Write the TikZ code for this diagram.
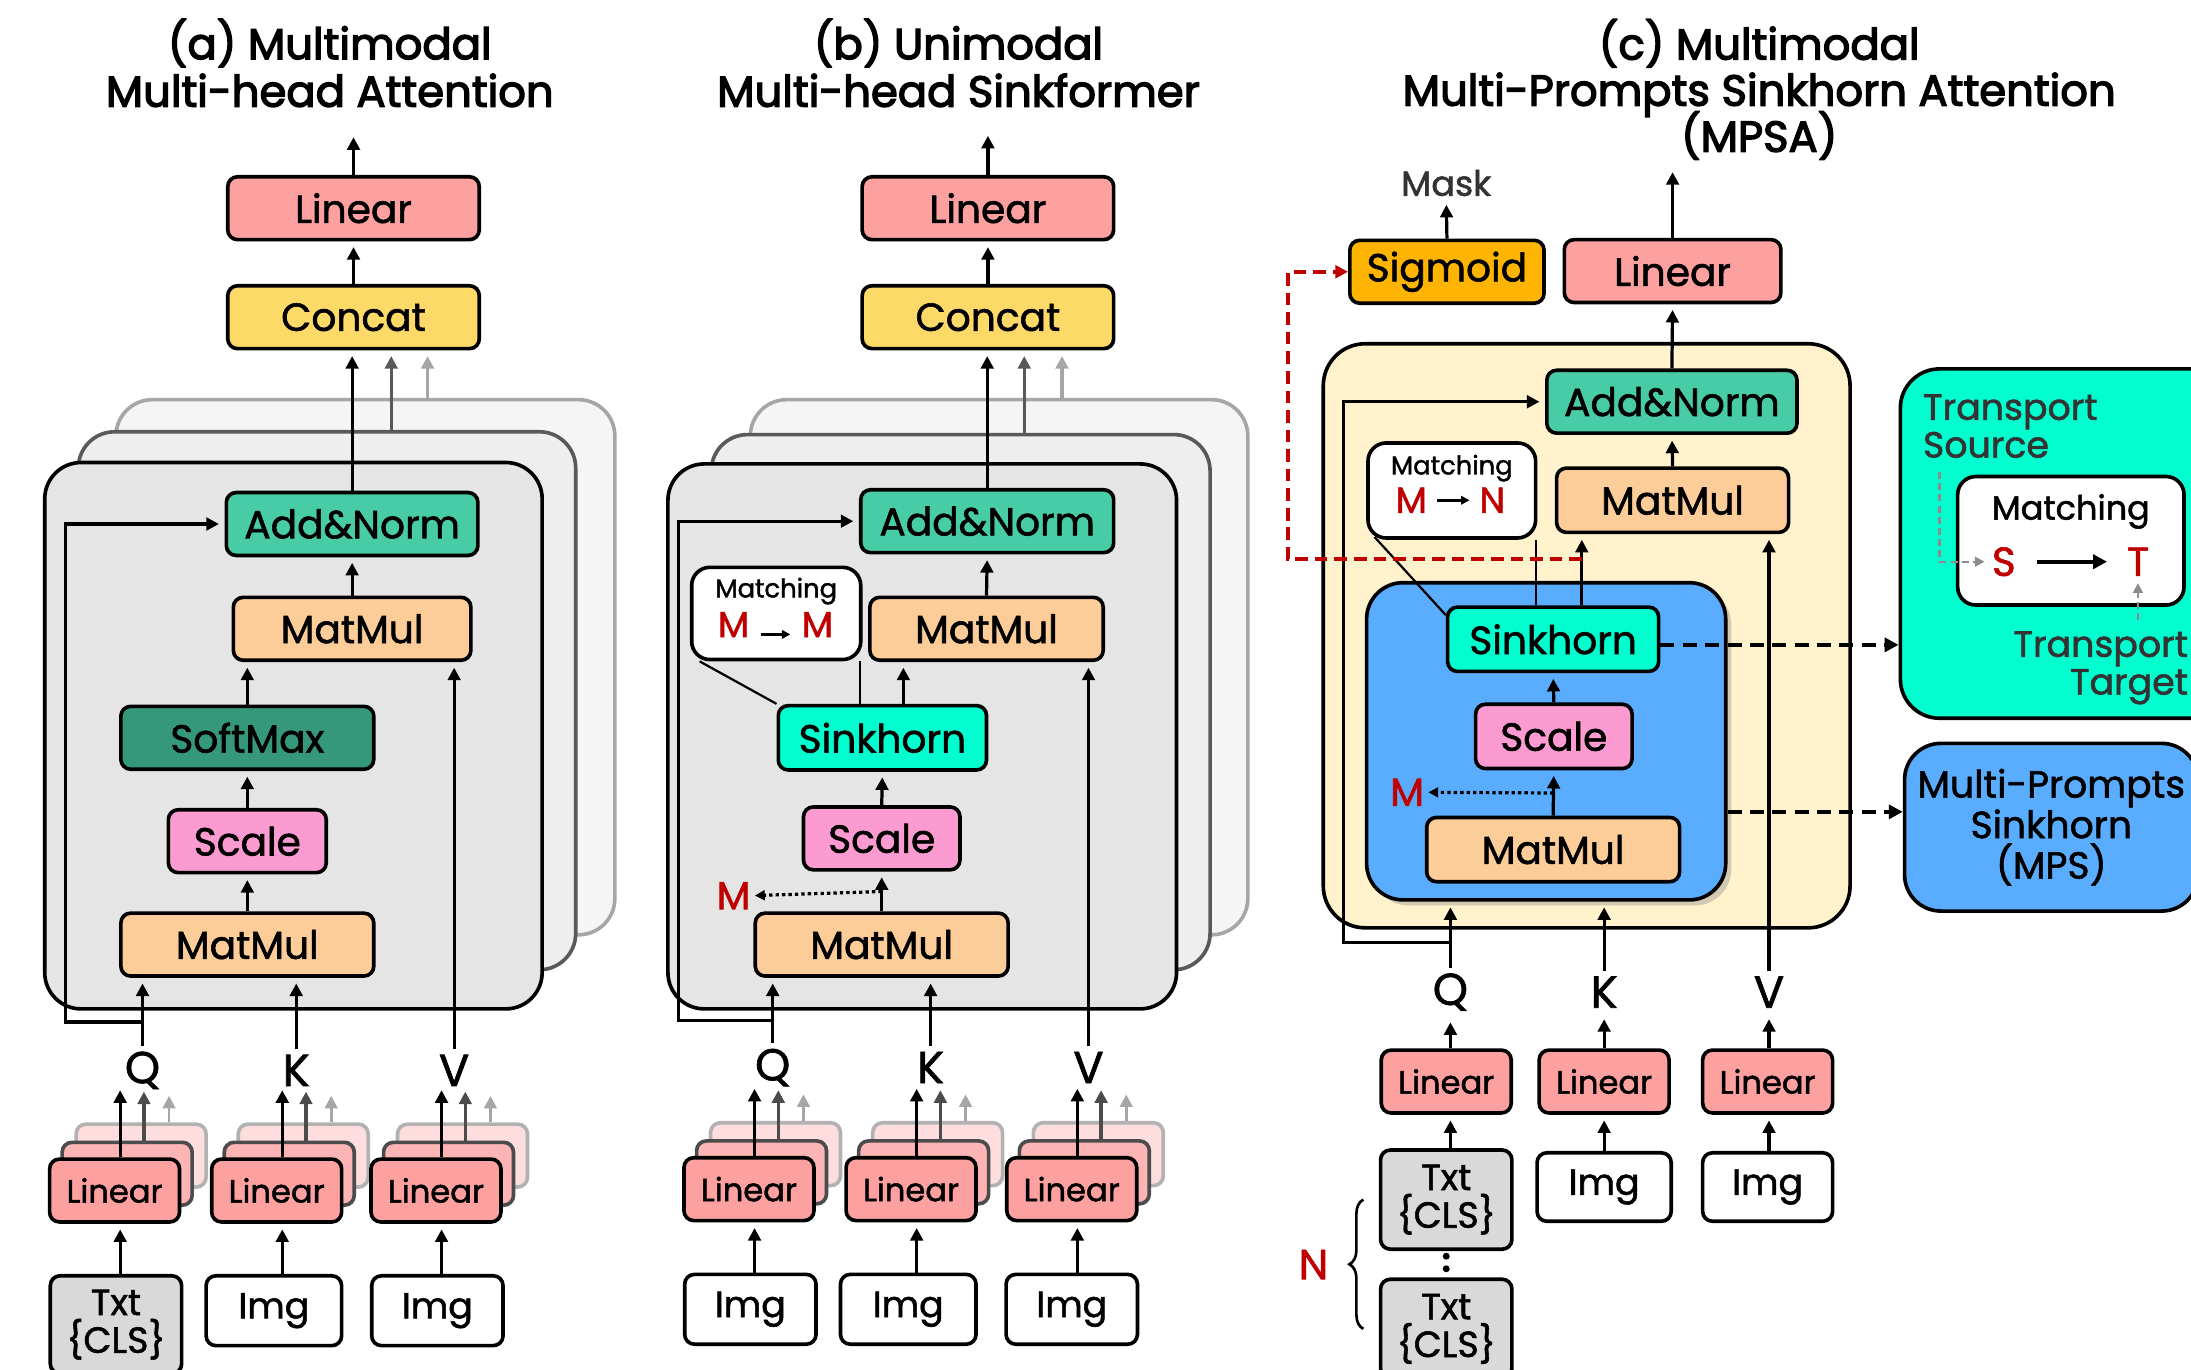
\documentclass[tikz,border=0pt]{standalone}
\usepackage{fontspec}
\setmainfont{Poppins}[FakeBold=1.5]
\newfontfamily\headfont{Poppins}[FakeBold=3]
\usetikzlibrary{
    arrows.meta,
    positioning,
    calc,
    shadows,
    decorations.pathreplacing,
}

\definecolor{linred}{RGB}{253,160,160}
\definecolor{linmid}{RGB}{252,180,180}
\definecolor{linback}{RGB}{253,221,221}
\definecolor{catyellow}{RGB}{253,217,103}
\definecolor{addgreen}{RGB}{72,204,165}
\definecolor{matorange}{RGB}{253,205,153}
\definecolor{softgreen}{RGB}{53,152,122}
\definecolor{scalepink}{RGB}{252,155,209}
\definecolor{sinkcyan}{RGB}{2,253,207}
\definecolor{sigorange}{RGB}{254,180,0}
\definecolor{txtgray}{RGB}{217,217,217}
\definecolor{headfront}{RGB}{229,229,229}
\definecolor{headmid}{RGB}{238,238,238}
\definecolor{headback}{RGB}{245,245,245}
\definecolor{mpsblue}{RGB}{90,172,254}
\definecolor{mpsbeige}{RGB}{255,242,204}
\definecolor{matchred}{RGB}{192,0,0}
\definecolor{notegray}{RGB}{51,51,51}

\begin{document}
\begin{tikzpicture}[
    x=1pt, y=-1pt,
    box/.style={draw, line width=2.6pt, rounded corners=7pt, inner sep=0pt, minimum height=45pt, font=\fontsize{28}{30}\selectfont},
    sbox/.style={box, minimum width=93pt, font=\fontsize{23}{25}\selectfont},
    inbox/.style={box, minimum width=94pt, minimum height=50pt, align=center, font=\fontsize{26}{27}\selectfont},
    panel/.style={draw, line width=2.6pt, rounded corners=26pt, inner sep=0pt},
    matchbox/.style={draw, fill=white, line width=2.6pt, rounded corners=13pt, inner sep=0pt},
    heading/.style={align=center, font=\headfont\fontsize{31}{34}\selectfont\setlength\lineskiplimit{-20pt}},
    qkv/.style={inner sep=4pt, font=\fontsize{32}{32}\selectfont},
    redtxt/.style={inner sep=0pt, text=matchred, font=\fontsize{26}{26}\selectfont},
    smalltxt/.style={inner sep=0pt, font=\fontsize{18.5}{20}\selectfont},
    dotmark/.style={circle, fill, inner sep=0pt, minimum size=5pt},
    arr/.style={-{Triangle[length=9pt,width=9pt]}, line width=2.3pt, shorten >=4pt},
    link/.style={line width=1.6pt},
    dotarr/.style={-{Triangle[length=7pt,width=7pt]}, line width=2.3pt, dash pattern=on 2.4pt off 2.2pt, shorten >=3pt},
    dasharr/.style={-{Triangle[length=10pt,width=10pt]}, line width=2.8pt, dash pattern=on 10pt off 6pt},
    grayarr/.style={-{Triangle[length=7pt,width=7pt]}, color=black!45, line width=1.6pt, dash pattern=on 5pt off 3pt, shorten >=5pt},
    ]

\useasboundingbox (0,0) rectangle (1568,980);
\clip (0,0) rectangle (1568,980);

% ---------------- (a) Multimodal Multi-head Attention
\node[heading] (ttl_a) at (236,45) {(a) Multimodal\\Multi-head Attention};

\node[panel, fill=headback, draw=black!35, minimum width=357pt, minimum height=383pt] (hd3_a) at (261.5,477.5) {};
\node[panel, fill=headmid, draw=black!65, minimum width=356pt, minimum height=385pt] (hd2_a) at (234,501.5) {};
\node[panel, fill=headfront, minimum width=356pt, minimum height=391pt] (hd1_a) at (210,526.5) {};

\node[box, fill=linred, minimum width=180pt] (lin_a) at (253,149) {Linear};
\node[box, fill=catyellow, minimum width=180pt] (cat_a) at (253,227) {Concat};
\node[box, fill=addgreen, minimum width=180pt] (add_a) at (252,375) {Add\&Norm};
\node[box, fill=matorange, minimum width=170pt] (mm2_a) at (252,450) {MatMul};
\node[box, fill=softgreen, minimum width=181pt] (soft_a) at (177,528) {SoftMax};
\node[box, fill=scalepink, minimum width=113pt] (scale_a) at (177,602) {Scale};
\node[box, fill=matorange, minimum width=181pt] (mm1_a) at (177,676) {MatMul};

\node[qkv] (q_a) at (102,766) {Q};
\node[qkv] (k_a) at (212,766) {K};
\node[qkv] (v_a) at (325,766) {V};

\draw[arr] (lin_a.north) -- ++(0,-31);
\draw[arr] (cat_a.north) -- (lin_a.south);
\draw[arr] (add_a.north) -- (add_a.north |- cat_a.south);
\draw[arr, black!65] ([xshift=27pt]cat_a.south |- hd2_a.north) -- ([xshift=27pt]cat_a.south);
\draw[arr, black!35] ([xshift=53pt]cat_a.south |- hd3_a.north) -- ([xshift=53pt]cat_a.south);
\draw[arr] (mm2_a.north) -- (add_a.south);
\draw[arr] (soft_a.north) -- (soft_a.north |- mm2_a.south);
\draw[arr] (scale_a.north) -- (soft_a.south);
\draw[arr] (mm1_a.north) -- (scale_a.south);
\draw[arr] (v_a.north) -- (v_a.north |- mm2_a.south);
\draw[arr] (k_a.north) -- (k_a.north |- mm1_a.south);
\draw[arr] (q_a.north) -- (q_a.north |- mm1_a.south);
\draw[arr] ([yshift=17pt]q_a.north) -| ([xshift=-114pt]add_a.west) -- (add_a.west);

% ---------------- (b) Unimodal Multi-head Sinkformer
\node[heading] (ttl_b) at (686,45) {(b) Unimodal\\Multi-head Sinkformer};

\node[panel, fill=headback, draw=black!35, minimum width=356pt, minimum height=383pt] (hd3_b) at (715,477.5) {};
\node[panel, fill=headmid, draw=black!65, minimum width=357pt, minimum height=383pt] (hd2_b) at (687.5,502.5) {};
\node[panel, fill=headfront, minimum width=364pt, minimum height=390pt] (hd1_b) at (660,527) {};

\node[box, fill=linred, minimum width=180pt] (lin_b) at (707,149) {Linear};
\node[box, fill=catyellow, minimum width=180pt] (cat_b) at (707,227) {Concat};
\node[box, fill=addgreen, minimum width=181pt] (add_b) at (706.5,373) {Add\&Norm};
\node[box, fill=matorange, minimum width=167pt] (mm2_b) at (706,450) {MatMul};
\node[matchbox, minimum width=121pt, minimum height=66pt] (match_b) at (555.5,439) {};
\node[smalltxt] (mtxt_b) at (555.5,423) {Matching};
\node[redtxt] (ms_b) at (525,447) {M};
\node[redtxt] (md_b) at (585,447) {M};
\node[box, fill=sinkcyan, minimum width=149pt, minimum height=46pt] (sk_b) at (631.5,528) {Sinkhorn};
\node[box, fill=scalepink, minimum width=112pt] (scale_b) at (631,600) {Scale};
\node[box, fill=matorange, minimum width=181pt] (mm1_b) at (631,676) {MatMul};
\node[redtxt, font=\fontsize{28}{28}\selectfont] (m_b) at (525,641) {M};

\node[qkv] (q_b) at (553,764) {Q};
\node[qkv] (k_b) at (666,764) {K};
\node[qkv] (v_b) at (779,764) {V};

\draw[arr] (lin_b.north) -- ++(0,-32);
\draw[arr] (cat_b.north) -- (lin_b.south);
\draw[arr] (add_b.north) -- (add_b.north |- cat_b.south);
\draw[arr, black!65] ([xshift=26pt]cat_b.south |- hd2_b.north) -- ([xshift=26pt]cat_b.south);
\draw[arr, black!35] ([xshift=53pt]cat_b.south |- hd3_b.north) -- ([xshift=53pt]cat_b.south);
\draw[arr] (mm2_b.north) -- (add_b.south);
\draw[arr] ([xshift=15pt]sk_b.north) -- ([xshift=15pt]sk_b.north |- mm2_b.south);
\draw[arr] (scale_b.north) -- (sk_b.south);
\draw[arr] (mm1_b.north) -- (scale_b.south);
\draw[dotarr] ($(mm1_b.north)!0.5!(scale_b.south)$) -- (m_b.east);
\draw[link] ([xshift=7pt]match_b.south west) -- (sk_b.north west);
\draw[link] ([xshift=-2pt]match_b.south east) -- ([xshift=-2pt]match_b.south east |- sk_b.north);
\draw[-{Triangle[length=6pt,width=6pt]}, line width=2pt] ([xshift=8pt,yshift=-7pt]ms_b.east) -- ([xshift=-8pt,yshift=-7pt]md_b.west);
\draw[arr] (v_b.north) -- (v_b.north |- mm2_b.south);
\draw[arr] (k_b.north) -- (k_b.north |- mm1_b.south);
\draw[arr] (q_b.north) -- (q_b.north |- mm1_b.south);
\draw[arr] ([yshift=16pt]q_b.north) -| ([xshift=-129pt]add_b.west) -- (add_b.west);

% ---------------- linear stacks of (a) and (b)
\foreach \nm/\px/\py in {lq_a/82/852, lk_a/198/852, lv_a/312/852, lq_b/536/851, lk_b/652/851, lv_b/767/851} {
    \node[sbox, fill=linback, draw=black!30] (\nm3) at (\px+19,\py-25) {};
    \node[sbox, fill=linmid, draw=black!70] (\nm2) at (\px+9,\py-12) {};
    \node[sbox, fill=linred] (\nm) at (\px,\py) {Linear};
    \draw[arr] ([xshift=4pt]\nm.north) -- ++(0,-52);
    \draw[arr, black!70] ([xshift=21pt]\nm.north |- \nm2.north) -- ++(0,-39);
    \draw[arr, black!35, line width=2pt] ([xshift=39pt]\nm.north |- \nm3.north) -- ++(0,-23);
}

% inputs of (a) and (b)
\node[inbox, fill=txtgray, minimum height=70pt] (txt_a) at (83,948) {Txt\\\{CLS\}};
\node[inbox, minimum width=97pt] (img1_a) at (196,938) {Img};
\node[inbox] (img2_a) at (313,938) {Img};
\node[inbox] (img1_b) at (537,937) {Img};
\node[inbox, minimum width=97pt] (img2_b) at (650,937) {Img};
\node[inbox] (img3_b) at (767,937) {Img};

\draw[arr] ([xshift=4pt]lq_a.south |- txt_a.north) -- ([xshift=4pt]lq_a.south);
\draw[arr] ([xshift=4pt]lk_a.south |- img1_a.north) -- ([xshift=4pt]lk_a.south);
\draw[arr] ([xshift=4pt]lv_a.south |- img2_a.north) -- ([xshift=4pt]lv_a.south);
\draw[arr] ([xshift=4pt]lq_b.south |- img1_b.north) -- ([xshift=4pt]lq_b.south);
\draw[arr] ([xshift=4pt]lk_b.south |- img2_b.north) -- ([xshift=4pt]lk_b.south);
\draw[arr] ([xshift=4pt]lv_b.south |- img3_b.north) -- ([xshift=4pt]lv_b.south);

% ---------------- (c) Multimodal MPSA
\node[heading, font=\headfont\fontsize{31}{33}\selectfont\setlength\lineskiplimit{-20pt}] (ttl_c) at (1259,64) {(c) Multimodal\\Multi-Prompts Sinkhorn Attention\\(MPSA)};

\node[inner sep=2pt, text=notegray, font=\fontsize{25}{27}\selectfont] (mask) at (1035,131) {Mask};
\node[box, fill=sigorange, minimum width=139pt] (sig_c) at (1035.5,194.5) {Sigmoid};
\node[box, fill=linred, minimum width=155pt] (lin_c) at (1197,194) {Linear};

\node[panel, fill=mpsbeige, rounded corners=30pt, minimum width=377pt, minimum height=418pt] (attn_c) at (1135.5,455) {};
\node[box, fill=addgreen, minimum width=179pt] (add_c) at (1196.5,287.5) {Add\&Norm};
\node[box, fill=matorange, minimum width=166pt, minimum height=46pt] (mm2_c) at (1197,358) {MatMul};
\node[matchbox, minimum width=120pt, minimum height=68pt] (match_c) at (1039,351) {};
\node[smalltxt] (mtxt_c) at (1039,335) {Matching};
\node[redtxt] (ms_c) at (1010,358) {M};
\node[redtxt] (nd_c) at (1068,358) {N};

\node[panel, fill=mpsblue, drop shadow={shadow xshift=4pt, shadow yshift=-4pt, opacity=0.35}, minimum width=257pt, minimum height=227pt] (sinkblk_c) at (1106.5,530.5) {};
\node[box, fill=sinkcyan, minimum width=151pt, minimum height=46pt] (sk_c) at (1111.5,457.5) {Sinkhorn};
\node[box, fill=scalepink, minimum width=112pt, minimum height=46pt] (scale_c) at (1112,527) {Scale};
\node[box, fill=matorange, minimum width=181pt, minimum height=46pt] (mm1_c) at (1111.5,608) {MatMul};
\node[redtxt, font=\fontsize{28}{28}\selectfont] (m_c) at (1007,567) {M};

\node[qkv] (q_c) at (1038,710) {Q};
\node[qkv] (k_c) at (1148,710) {K};
\node[qkv] (v_c) at (1266,710) {V};

\node[sbox, fill=linred] (lq_c) at (1035,774) {Linear};
\node[sbox, fill=linred] (lk_c) at (1148,774) {Linear};
\node[sbox, fill=linred] (lv_c) at (1265,774) {Linear};

\node[inbox, fill=txtgray, minimum height=71pt] (txt1_c) at (1035,858.5) {Txt\\\{CLS\}};
\node[inbox, minimum width=96pt, minimum height=49pt] (img1_c) at (1148,849.5) {Img};
\node[inbox, minimum width=93pt, minimum height=49pt] (img2_c) at (1265,849.5) {Img};
\node[dotmark] (dot1_c) at (1035,899) {};
\node[dotmark] (dot2_c) at (1035,908) {};
\node[inbox, fill=txtgray, minimum height=71pt] (txt2_c) at (1035,951) {Txt\\\{CLS\}};
\node[redtxt, font=\fontsize{30}{30}\selectfont] (n_c) at (940,905) {N};

\draw[decorate, decoration={brace, amplitude=10pt}, line width=1.9pt] ([xshift=-11pt]txt2_c.west) -- ([xshift=-11pt]txt1_c.west);

\draw[arr] (sig_c.north) -- (mask.south);
\draw[arr] (lin_c.north) -- ++(0,-51);
\draw[arr] (add_c.north) -- (lin_c.south);
\draw[arr] (mm2_c.north) -- (add_c.south);
\draw[arr] ([xshift=20.5pt]sk_c.north) -- ([xshift=20.5pt]sk_c.north |- mm2_c.south);
\draw[arr] (scale_c.north) -- (sk_c.south);
\draw[arr] (mm1_c.north) -- (scale_c.south);
\draw[dotarr] ($(mm1_c.north)!0.5!(scale_c.south)$) -- (m_c.east);
\draw[link] ([xshift=6pt,yshift=2pt]match_c.south west) -- ([yshift=-7pt]sk_c.north west);
\draw[link] ([xshift=-1pt]match_c.south east) -- ([xshift=-1pt]match_c.south east |- sk_c.north);
\draw[-{Triangle[length=6pt,width=6pt]}, line width=2pt] ([xshift=7pt]ms_c.east) -- ([xshift=-7pt]nd_c.west);
\draw[arr] (v_c.north) -- (v_c.north |- mm2_c.south);
\draw[arr] (k_c.north) -- (k_c.north |- sinkblk_c.south);
\draw[arr] (q_c.north) -- (q_c.north |- sinkblk_c.south);
\draw[arr] ([yshift=18pt]q_c.north) -| ([xshift=-144pt]add_c.west) -- (add_c.west);

\coordinate (red_c) at ([xshift=20.5pt,yshift=33pt]sk_c.north);
\draw[-{Triangle[length=9pt,width=9pt]}, color=matchred, line width=2.8pt, dash pattern=on 9pt off 5pt] (red_c) -| ([xshift=-43pt]sig_c.west) -- (sig_c.west);

\draw[arr] (lq_c.north -| q_c) -- (q_c.south);
\draw[arr] (lk_c.north -| k_c) -- (k_c.south);
\draw[arr] (lv_c.north -| v_c) -- (v_c.south);
\draw[arr] (txt1_c.north -| q_c) -- (lq_c.south -| q_c);
\draw[arr] (img1_c.north -| k_c) -- (lk_c.south -| k_c);
\draw[arr] (img2_c.north -| v_c) -- (lv_c.south -| v_c);

% right side: transport and MPS blocks
\node[panel, fill=sinkcyan, rounded corners=28pt, minimum width=260pt, minimum height=250pt] (trans) at (1490,389) {};
\node[anchor=west, align=left, inner sep=0pt, text=notegray, font=\fontsize{26}{27}\selectfont] (tsrc) at (1376,305) {Transport\\Source};
\node[matchbox, minimum width=162pt, minimum height=92pt] (match_t) at (1482,387) {};
\node[inner sep=0pt, font=\fontsize{24}{26}\selectfont] (mtxt_t) at (1482,366) {Matching};
\node[redtxt, font=\fontsize{29}{29}\selectfont] (s_t) at (1434,402) {S};
\node[redtxt, font=\fontsize{29}{29}\selectfont] (t_t) at (1530,402) {T};
\node[anchor=east, align=right, inner sep=0pt, text=notegray, font=\fontsize{26}{27}\selectfont] (ttgt) at (1566,478) {Transport\\Target};

\draw[-{Triangle[length=10pt,width=10pt]}, line width=2.8pt] ([xshift=15pt]s_t.east) -- ([xshift=-14pt]t_t.west);
\draw[grayarr] ([xshift=12pt,yshift=-10pt]tsrc.south west) |- (s_t.west);
\draw[grayarr] ([yshift=8pt]t_t.south |- ttgt.north) -- (t_t.south);

\node[panel, fill=mpsblue, align=center, rounded corners=26pt, minimum width=210pt, minimum height=120pt, font=\fontsize{27}{29}\selectfont] (mps) at (1468,592) {Multi-Prompts\\Sinkhorn\\(MPS)};

\draw[dasharr] ([yshift=-4pt]sk_c.east) -- ([yshift=-4pt]sk_c.east -| trans.west);
\draw[dasharr] ([yshift=11pt]mps.west -| sinkblk_c.east) -- ([yshift=11pt]mps.west);

\end{tikzpicture}
\end{document}
